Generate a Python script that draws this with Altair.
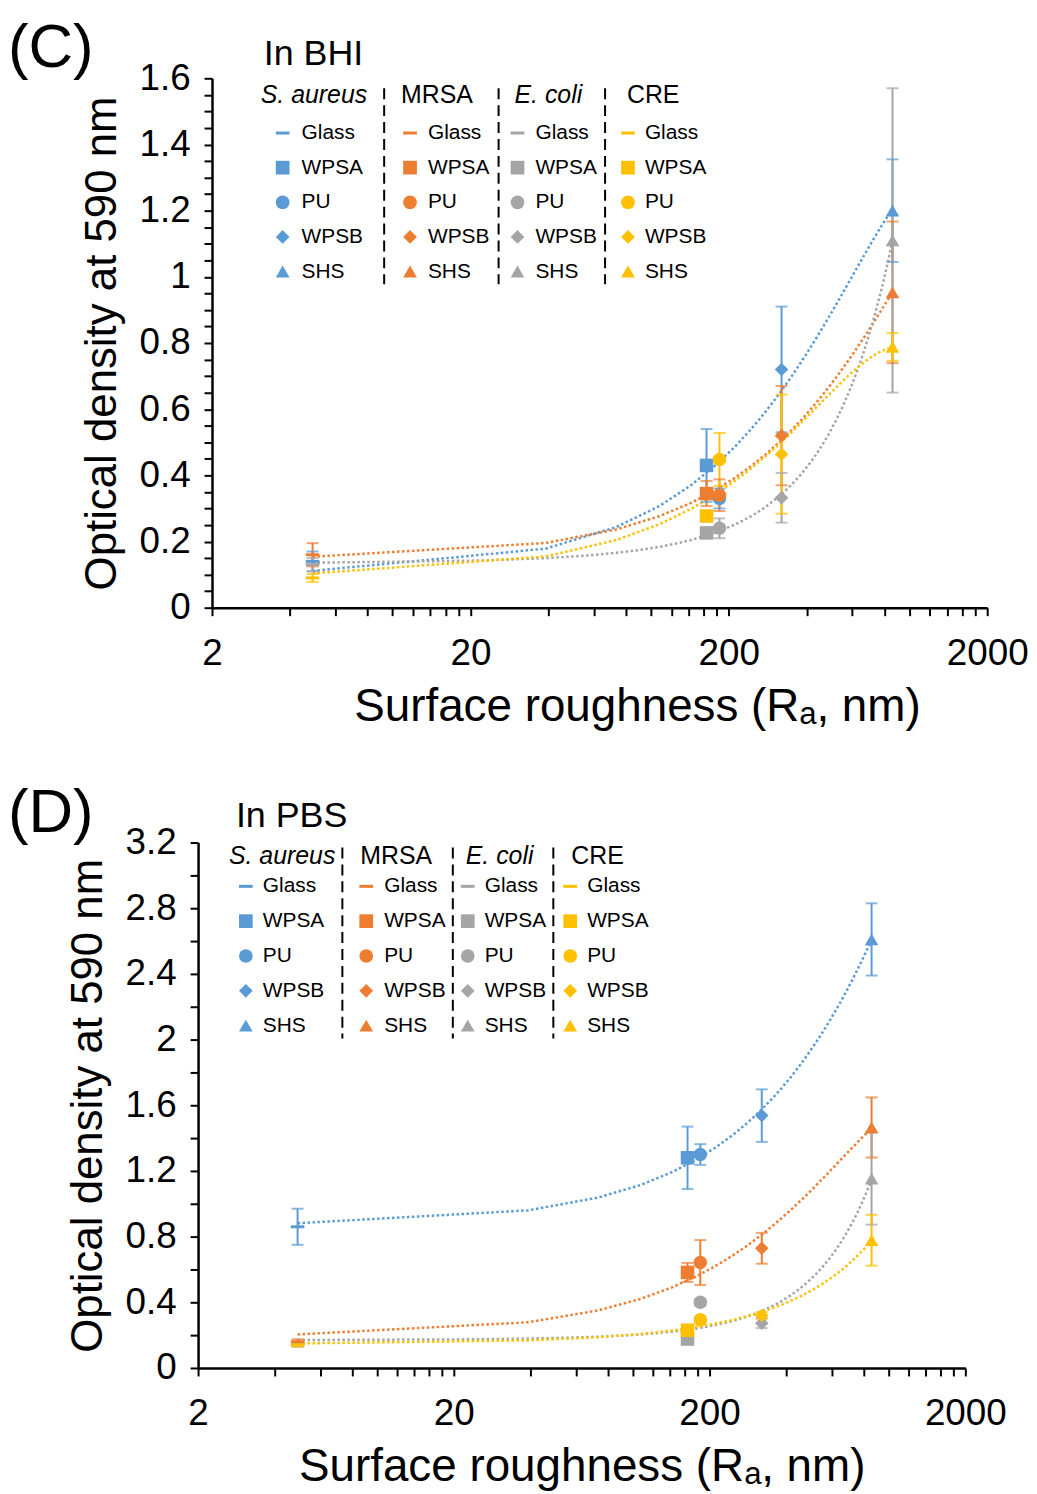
import altair as alt
import pandas as pd

FONT = "Liberation Sans"

SPECIES = ["S. aureus", "MRSA", "E. coli", "CRE"]
ITALIC = [True, False, True, False]
COLORS = ["#5B9BD5", "#ED7D31", "#A5A5A5", "#FFC000"]
SURFACES = ["Glass", "WPSA", "PU", "WPSB", "SHS"]
RA_NM = [4.9, 164, 184, 320, 860]

# (C) In BHI : mean OD590 and error half-width
BHI_SAUREUS = [0.14, 0.43, 0.33, 0.72, 1.20]
BHI_MRSA = [0.16, 0.345, 0.34, 0.52, 0.953]
BHI_ECOLI = [0.13, 0.226, 0.24, 0.332, 1.11]
BHI_CRE = [0.09, 0.277, 0.448, 0.464, 0.788]
BHI_SAUREUS_SD = [0.03, 0.11, 0.03, 0.19, 0.155]
BHI_MRSA_SD = [0.035, 0.038, 0.048, 0.15, 0.214]
BHI_ECOLI_SD = [0.02, 0.015, 0.03, 0.075, 0.46]
BHI_CRE_SD = [0.012, 0.015, 0.08, 0.18, 0.042]

# (D) In PBS
PBS_SAUREUS = [0.86, 1.28, 1.30, 1.537, 2.61]
PBS_MRSA = [0.16, 0.582, 0.642, 0.729, 1.465]
PBS_ECOLI = [0.14, 0.176, 0.40, 0.273, 1.153]
PBS_CRE = [0.14, 0.23, 0.293, 0.32, 0.778]
PBS_SAUREUS_SD = [0.11, 0.19, 0.063, 0.16, 0.22]
PBS_MRSA_SD = [0.015, 0.058, 0.137, 0.094, 0.183]
PBS_ECOLI_SD = [0.01, 0.02, 0.02, 0.03, 0.28]
PBS_CRE_SD = [0.01, 0.015, 0.02, 0.02, 0.155]

X_TICKS = [2, 4, 6, 8, 10, 12, 14, 16, 18, 20, 40, 60, 80, 100, 120, 140, 160, 180,
           200, 400, 600, 800, 1000, 1200, 1400, 1600, 1800, 2000]
X_LABELS = [2, 20, 200, 2000]
BHI_Y_TICKS = [round(0.05 * i, 2) for i in range(33)]
BHI_Y_LABELS = [0, 0.2, 0.4, 0.6, 0.8, 1, 1.2, 1.4, 1.6]
PBS_Y_TICKS = [round(0.2 * i, 1) for i in range(17)]
PBS_Y_LABELS = [0, 0.4, 0.8, 1.2, 1.6, 2, 2.4, 2.8, 3.2]

X_TITLE = "Surface roughness (R\u2090, nm)"
Y_TITLE = "Optical density at 590 nm"

GLASS_PATH = "M-1,-0.22L1,-0.22L1,0.22L-1,0.22Z"

# overall view (both panels share one drawing area, each with its own scales)
VIEW_W = 779
VIEW_H = 1296


def panel(tag, subtitle, vals, sds, y_ticks, y_labels, y_max, L):
    ox, oy, w, h = L["ox"], L["oy"], L["w"], L["h"]
    rows = []
    for si, sp in enumerate(SPECIES):
        for ri, sf in enumerate(SURFACES):
            v = vals[si][ri]
            e = sds[si][ri]
            rows.append(dict(species=sp, surface=sf, Ra=RA_NM[ri], OD=v, lo=v - e, hi=v + e))
    df = pd.DataFrame(rows)

    xs = alt.Scale(type="log", domain=[2, 2000], nice=False, range=[ox, ox + w])
    ys = alt.Scale(domain=[0, y_max], nice=False, zero=True, range=[oy + h, oy])
    common = dict(domainColor="black", domainWidth=2.5, tickColor="black", tickWidth=2,
                  tickSize=8, labelColor="black", labelFont=FONT, labelFontSize=37,
                  titleFont=FONT, titleFontWeight="normal",
                  titleColor="black", grid=False, labelOverlap=False, labelFlush=False,
                  labelBound=False)
    xkw = dict(common)
    if L.get("xtitle_x") is not None:
        xkw["titleX"] = L["xtitle_x"]
    xaxis = alt.Axis(values=X_TICKS, title=X_TITLE, labelPadding=20, titlePadding=13,
                     titleFontSize=46, orient="bottom", offset=(oy + h) - VIEW_H,
                     labelExpr=f"indexof({X_LABELS}, datum.value) >= 0 ? format(datum.value, '~g') : ''",
                     **xkw)
    yaxis = alt.Axis(values=y_ticks, title=Y_TITLE, labelPadding=14, titlePadding=15,
                     titleFontSize=44, orient="left", offset=-ox,
                     labelExpr=f"indexof({y_labels}, datum.value) >= 0 ? format(datum.value, '~g') : ''",
                     **common)
    color = alt.Color("species:N", scale=alt.Scale(domain=SPECIES, range=COLORS), legend=None)
    shape = alt.Shape("surface:N",
                      scale=alt.Scale(domain=SURFACES,
                                      range=[GLASS_PATH, "square", "circle", "diamond", "triangle-up"]),
                      legend=None)
    X = alt.X("Ra:Q", scale=xs, axis=xaxis)

    base = alt.Chart(df)
    trend = base.transform_regression("Ra", "OD", groupby=["species"], method="quad").mark_line(
        strokeDash=[2.5, 2.5], strokeWidth=2.5).encode(
        x=X, y=alt.Y("OD:Q", scale=ys, axis=yaxis), color=color)
    bars = base.mark_rule(strokeWidth=2).encode(
        x=X, y=alt.Y("lo:Q", scale=ys, axis=yaxis), y2="hi:Q", color=color)
    cap_lo = base.mark_tick(orient="horizontal", size=12, thickness=2).encode(
        x=X, y=alt.Y("lo:Q", scale=ys, axis=yaxis), color=color)
    cap_hi = base.mark_tick(orient="horizontal", size=12, thickness=2).encode(
        x=X, y=alt.Y("hi:Q", scale=ys, axis=yaxis), color=color)
    pts = base.mark_point(filled=True, opacity=1, size=185).encode(
        x=X, y=alt.Y("OD:Q", scale=ys, axis=yaxis), color=color, shape=shape)

    # custom legend (positions relative to this panel's plot corner)
    leg_rows = [dict(species=sp, surface=sf, col=si, row=ri)
                for si, sp in enumerate(SPECIES) for ri, sf in enumerate(SURFACES)]
    leg = alt.Chart(pd.DataFrame(leg_rows)).transform_calculate(
        sx=f"{ox} + {L['sym_x']}[datum.col]",
        lx=f"{ox} + {L['lab_x']}[datum.col]",
        ly=f"{oy} + {L['row0']} + datum.row * {L['row_step']}")
    leg_sym = leg.mark_point(filled=True, opacity=1, size=190).encode(
        x=alt.X("sx:Q", scale=None, axis=None), y=alt.Y("ly:Q", scale=None, axis=None),
        color=color, shape=shape)
    leg_txt = leg.mark_text(align="left", baseline="middle", font=FONT, fontSize=21,
                            color="black").encode(
        x=alt.X("lx:Q", scale=None, axis=None), y=alt.Y("ly:Q", scale=None, axis=None),
        text="surface:N")

    hdr = alt.Chart(pd.DataFrame({"species": SPECIES, "col": list(range(4)), "italic": ITALIC})
                    ).transform_calculate(hx=f"{ox} + {L['hdr_x']}[datum.col]")
    hdr_it = hdr.transform_filter("datum.italic").mark_text(
        align="left", baseline="middle", font=FONT, fontSize=25, fontStyle="italic",
        color="black").encode(x=alt.X("hx:Q", scale=None, axis=None),
                              y=alt.value(oy + L["hdr_y"]), text="species:N")
    hdr_rm = hdr.transform_filter("!datum.italic").mark_text(
        align="left", baseline="middle", font=FONT, fontSize=25,
        color="black").encode(x=alt.X("hx:Q", scale=None, axis=None),
                              y=alt.value(oy + L["hdr_y"]), text="species:N")

    sep = alt.Chart(pd.DataFrame({"i": [0, 1, 2]})).transform_calculate(
        px=f"{ox} + {L['sep_x']}[datum.i]").mark_rule(color="black", strokeWidth=2,
                                                      strokeDash=[11, 6]).encode(
        x=alt.X("px:Q", scale=None, axis=None), y=alt.value(oy + L["sep_y0"]),
        y2=alt.value(oy + L["sep_y1"]))

    tag_t = alt.Chart(pd.DataFrame({"t": [tag]})).mark_text(
        align="left", baseline="alphabetic", font=FONT, fontSize=62, color="black").encode(
        x=alt.value(ox + L["tag_x"]), y=alt.value(oy - 11), text="t:N")
    sub_t = alt.Chart(pd.DataFrame({"t": [subtitle]})).mark_text(
        align="left", baseline="alphabetic", font=FONT, fontSize=36, color="black").encode(
        x=alt.value(ox + L["sub_x"]), y=alt.value(oy + L["sub_y"]), text="t:N")

    return alt.layer(trend, bars, cap_lo, cap_hi, pts, sep, leg_sym, leg_txt, hdr_it, hdr_rm,
                     tag_t, sub_t)


LC = dict(ox=0, oy=0, w=779, h=532,
          tag_x=-205, sub_x=52, sub_y=-13, hdr_x=[49, 190, 304, 417], hdr_y=17,
          sym_x=[71, 199, 307, 418], lab_x=[90, 217, 325, 435], row0=55, row_step=34.8,
          sep_x=[173, 288, 395], sep_y0=10, sep_y1=207, xtitle_x=427)
LD = dict(ox=-14, oy=768, w=771, h=528,
          tag_x=-191, sub_x=38, sub_y=-16, hdr_x=[31, 163, 269, 375], hdr_y=14,
          sym_x=[48, 169, 271, 374], lab_x=[65, 187, 288, 391], row0=44, row_step=35,
          sep_x=[145, 256, 357], sep_y0=5, sep_y1=197)

c_panel = panel("(C)", "In BHI",
                [BHI_SAUREUS, BHI_MRSA, BHI_ECOLI, BHI_CRE],
                [BHI_SAUREUS_SD, BHI_MRSA_SD, BHI_ECOLI_SD, BHI_CRE_SD],
                BHI_Y_TICKS, BHI_Y_LABELS, 1.6, LC)
d_panel = panel("(D)", "In PBS",
                [PBS_SAUREUS, PBS_MRSA, PBS_ECOLI, PBS_CRE],
                [PBS_SAUREUS_SD, PBS_MRSA_SD, PBS_ECOLI_SD, PBS_CRE_SD],
                PBS_Y_TICKS, PBS_Y_LABELS, 3.2, LD)

chart = alt.layer(c_panel, d_panel).resolve_scale(
    x="independent", y="independent").resolve_axis(x="independent", y="independent").properties(
    width=VIEW_W, height=VIEW_H,
    padding={"left": 0, "top": 6, "right": 0, "bottom": 0}).configure_view(stroke=None)
chart.save("out.html", embed_options={"renderer": "svg", "actions": False})
